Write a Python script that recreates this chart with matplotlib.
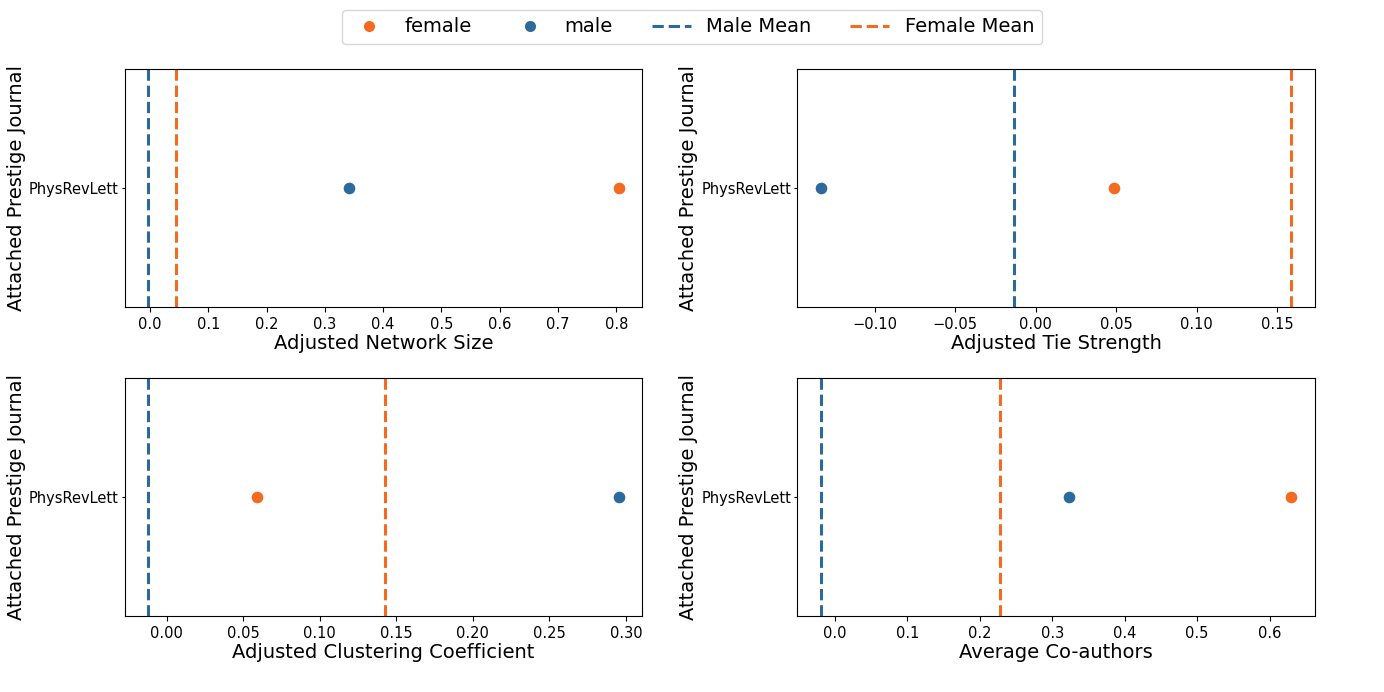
import matplotlib
matplotlib.use('Agg')
import matplotlib.pyplot as plt
from matplotlib.lines import Line2D

# 데이터
journal = ['PhysRevLett']
metrics = ['Adjusted Network Size', 'Adjusted Tie Strength',
           'Adjusted Clustering Coefficient', 'Average Co-authors']
female_vals = [0.804, 0.0486, 0.0587, 0.630]
male_vals = [0.342, -0.1335, 0.2952, 0.3233]
male_mean = [-0.0035, -0.0137, -0.0122, -0.0196]
female_mean = [0.045, 0.1588, 0.1425, 0.2281]

c_female = '#F26B21'
c_male = '#2C6A9B'

fig, axes = plt.subplots(2, 2, figsize=(13.84, 6.92), dpi=100)
fig.subplots_adjust(left=0.09, right=0.95, top=0.90, bottom=0.11, wspace=0.30, hspace=0.30)

for i, ax in enumerate(axes.flat):
    ax.axvline(male_mean[i], color=c_male, ls='--', lw=2.2)
    ax.axvline(female_mean[i], color=c_female, ls='--', lw=2.2)
    ax.scatter([female_vals[i]], journal, color=c_female, s=85, edgecolor='white', linewidth=0.8, zorder=3)
    ax.scatter([male_vals[i]], journal, color=c_male, s=85, edgecolor='white', linewidth=0.8, zorder=3)
    ax.set_ylim(0.5, -0.5)
    ax.set_xlabel(metrics[i], fontsize=14, labelpad=2)
    ax.set_ylabel('Attached Prestige Journal', fontsize=14, labelpad=2)
    ax.tick_params(labelsize=10.5)
    ax.tick_params(axis='y', length=2.5, pad=2)

handles = [
    Line2D([], [], marker='o', ls='', color=c_female, markersize=9, markeredgecolor='white'),
    Line2D([], [], marker='o', ls='', color=c_male, markersize=9, markeredgecolor='white'),
    Line2D([], [], color=c_male, ls='--', lw=2.2),
    Line2D([], [], color=c_female, ls='--', lw=2.2),
]
fig.legend(handles, ['female', 'male', 'Male Mean', 'Female Mean'], loc='upper center',
           bbox_to_anchor=(0.5, 1.0), ncol=4, fontsize=14, columnspacing=2.0)

plt.savefig('out.png', dpi=100)
